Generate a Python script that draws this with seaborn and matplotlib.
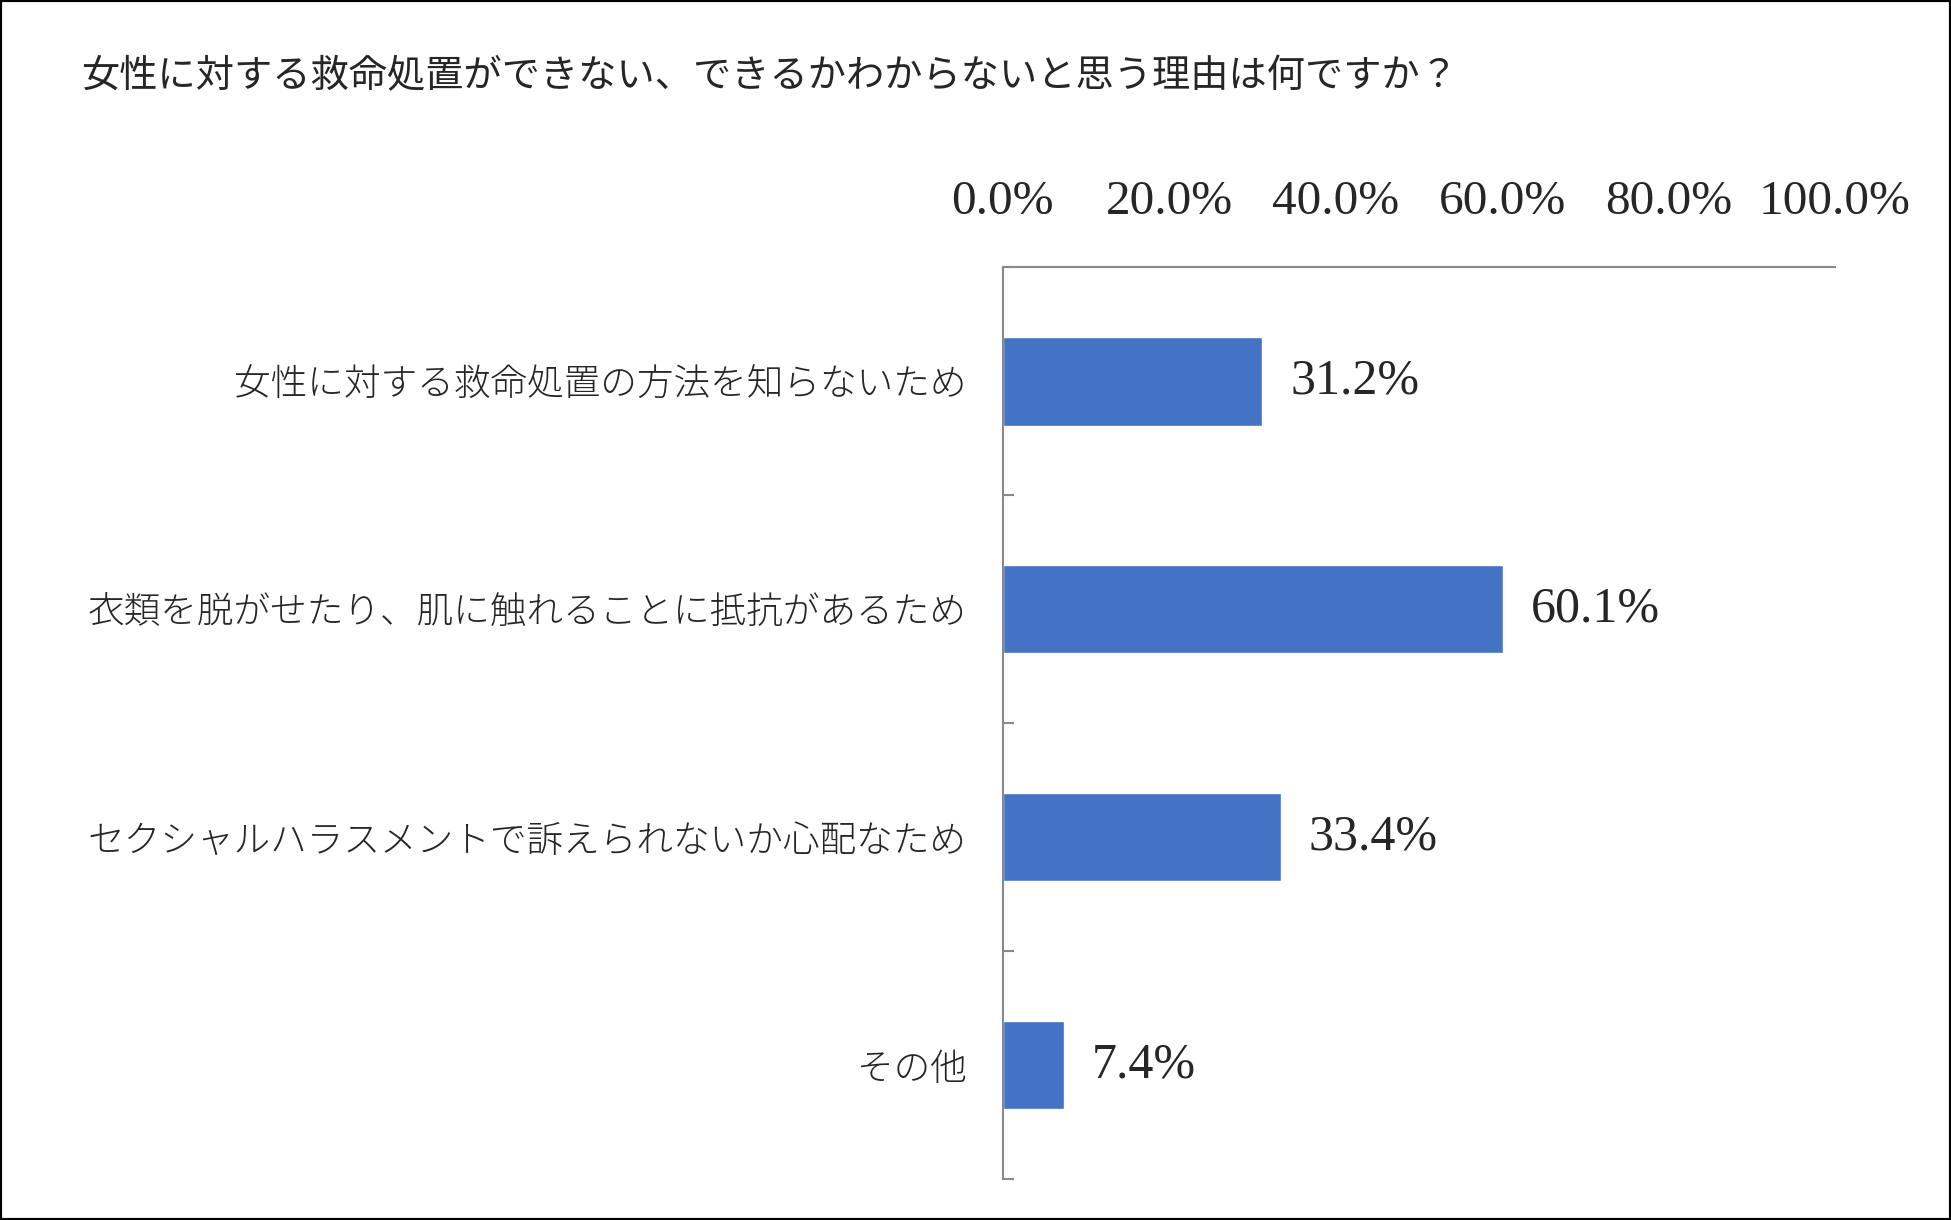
import matplotlib
matplotlib.use("Agg")
import matplotlib.pyplot as plt
import seaborn as sns
import pandas as pd
from matplotlib.patches import Rectangle
from matplotlib.ticker import FuncFormatter, FixedLocator

# data
categories = [
    "女性に対する救命処置の方法を知らないため",
    "衣類を脱がせたり、肌に触れることに抵抗があるため",
    "セクシャルハラスメントで訴えられないか心配なため",
    "その他",
]
values = [31.2, 60.1, 33.4, 7.4]
x_ticks = [0, 20, 40, 60, 80, 100]
title = "女性に対する救命処置ができない、できるかわからないと思う理由は何ですか？"

sns.set_style("white")
plt.rcParams["font.family"] = ["Noto Sans CJK JP", "DejaVu Sans"]

df = pd.DataFrame({"category": categories, "value": values})

fig = plt.figure(figsize=(19.51, 12.2), dpi=100)
ax = fig.add_axes([0.514, 0.0336, 0.4265, 0.7475])

sns.barplot(data=df, x="value", y="category", orient="h", color="#4472C4",
            saturation=1, width=0.39, ax=ax)

ax.set_xlim(0, 100)
ax.set_ylim(3.5, -0.5)
ax.set_xlabel("")
ax.set_ylabel("")

# x axis on top, serif numbers
ax.xaxis.tick_top()
ax.set_xticks(x_ticks)
ax.xaxis.set_major_formatter(FuncFormatter(lambda v, p: f"{v:.1f}%"))
ax.tick_params(axis="x", length=0, pad=31, labelsize=35.5)
for t in ax.get_xticklabels():
    t.set_family("Liberation Serif")

# category labels
ax.tick_params(axis="y", which="major", length=0, pad=26, labelsize=26.4)
for t in ax.get_yticklabels():
    t.set_fontweight("light")

# small ticks at category boundaries
ax.yaxis.set_minor_locator(FixedLocator([-0.5, 0.5, 1.5, 2.5, 3.5]))
ax.tick_params(axis="y", which="minor", direction="in", length=8, width=1.5,
               color="#898989", left=True)

for s in ["right", "bottom"]:
    ax.spines[s].set_visible(False)
for s in ["left", "top"]:
    ax.spines[s].set_color("#898989")
    ax.spines[s].set_linewidth(1.5)

ax.bar_label(ax.containers[0], labels=[f"{v:.1f}%" for v in values],
             padding=20, fontsize=36, family="Liberation Serif")

fig.text(0.0415, 0.937, title, fontsize=27.5, va="center", ha="left")

fig.patches.append(Rectangle((0, 0), 1, 1, transform=fig.transFigure,
                             fill=False, edgecolor="black", linewidth=3))

fig.savefig("out.png", dpi=100)
